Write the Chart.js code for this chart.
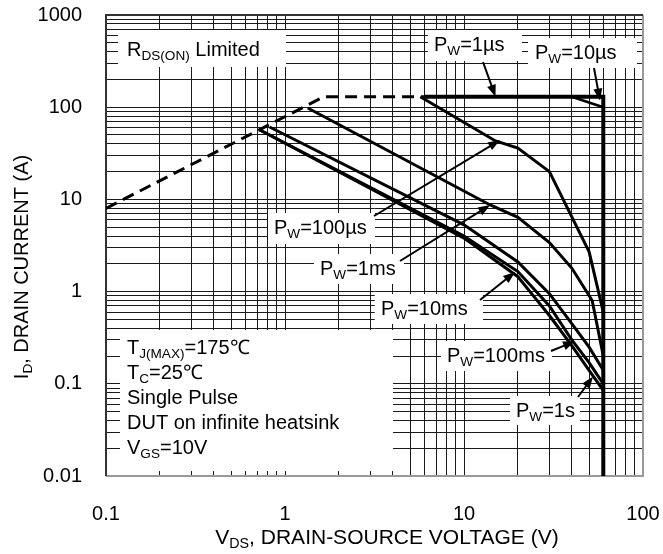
<!DOCTYPE html>
<html>
<head>
<meta charset="utf-8">
<script src="https://cdn.jsdelivr.net/npm/chart.js@4.4.1/dist/chart.umd.min.js"></script>
<style>
  html, body { margin: 0; padding: 0; background: #fff; }
  #wrap { width: 663px; height: 554px; }
</style>
</head>
<body>
<div id="wrap"><canvas id="soa"></canvas></div>
<script>
// tick labels
const xTickLabels = ['0.1', '1', '10', '100'];
const yTickLabels = ['0.01', '0.1', '1', '10', '100', '1000'];

// curves: V_DS (V) and I_D (A)
const rdsV = [0.1, 1.65, 6];
const rdsI = [8, 130, 130];
const pw1usV = [6, 60, 60];
const pw1usI = [130, 130, 0.01];
const pw10usV = [40, 60];
const pw10usI = [130, 100];
const pw100usV = [5.7, 15, 20, 30, 50, 60];
const pw100usI = [130, 43, 36, 20, 2.7, 0.6];
const pw1msV = [1.34, 14, 20, 30, 40, 52, 60];
const pw1msI = [98, 8.7, 6.4, 3.4, 1.8, 0.8, 0.2];
const pw10msV = [0.82, 10, 20, 30, 40, 50, 60];
const pw10msI = [61, 5.3, 2.1, 0.95, 0.45, 0.25, 0.14];
const pw100msV = [0.72, 10, 20, 30, 40, 50, 60];
const pw100msI = [57, 4.0, 1.65, 0.7, 0.3, 0.17, 0.1];
const pw1sV = [0.72, 10, 20, 25, 30, 40, 50, 60];
const pw1sI = [57, 3.8, 1.45, 0.85, 0.55, 0.26, 0.14, 0.085];

const FONT = '"Liberation Sans", Arial, sans-serif';

function pts(xs, ys) { return xs.map((x, i) => ({ x: x, y: ys[i] })); }

function line(xs, ys, w, dash) {
  return {
    data: pts(xs, ys), borderColor: '#000', borderWidth: w,
    borderDash: dash || [], pointRadius: 0, tension: 0, fill: false
  };
}

function logTicks(min, max) {
  const out = [];
  for (let e = Math.round(Math.log10(min)); e < Math.round(Math.log10(max)); e++) {
    for (let m = 1; m < 10; m++) out.push({ value: m * Math.pow(10, e) });
  }
  out.push({ value: max });
  return out;
}

function labelFor(list, v) {
  const hit = list.find(l => Math.abs(parseFloat(l) - v) / v < 1e-6);
  return hit || '';
}

// text with subscripts: parts = [[text, isSub], ...]
function richWidth(ctx, parts, size) {
  let w = 0;
  parts.forEach(p => {
    ctx.font = (p[1] ? size * 0.68 : size) + 'px ' + FONT;
    w += ctx.measureText(p[0]).width;
  });
  return w;
}
function drawRich(ctx, parts, x, y, size) {
  ctx.textBaseline = 'middle';
  ctx.textAlign = 'left';
  let cx = x;
  parts.forEach(p => {
    ctx.font = (p[1] ? size * 0.68 : size) + 'px ' + FONT;
    ctx.fillText(p[0], cx, y + (p[1] ? size * 0.3 : 0));
    cx += ctx.measureText(p[0]).width;
  });
}

// label boxes (pixel layout) and arrows (tip on a curve, in data units)
const boxes = [
  { r: [118, 30, 168, 37], t: [['R', 0], ['DS(ON)', 1], [' Limited', 0]], tx: 127, ty: 50 },
  { r: [428, 30, 94, 31], t: [['P', 0], ['W', 1], ['=1µs', 0]], tx: 434, ty: 45 },
  { r: [528, 38, 109, 30], t: [['P', 0], ['W', 1], ['=10µs', 0]], tx: 535, ty: 53 },
  { r: [268, 213, 107, 31], t: [['P', 0], ['W', 1], ['=100µs', 0]], tx: 274, ty: 228 },
  { r: [314, 254, 90, 30], t: [['P', 0], ['W', 1], ['=1ms', 0]], tx: 320, ty: 269 },
  { r: [375, 294, 108, 30], t: [['P', 0], ['W', 1], ['=10ms', 0]], tx: 381, ty: 309 },
  { r: [441, 341, 111, 30], t: [['P', 0], ['W', 1], ['=100ms', 0]], tx: 447, ty: 356 },
  { r: [510, 396, 70, 29], t: [['P', 0], ['W', 1], ['=1s', 0]], tx: 516, ty: 411 }
];
const condBox = [120, 330, 273, 141];
const condLines = [
  [['T', 0], ['J(MAX)', 1], ['=175℃', 0]],
  [['T', 0], ['C', 1], ['=25℃', 0]],
  [['Single Pulse', 0]],
  [['DUT on infinite heatsink', 0]],
  [['V', 0], ['GS', 1], ['=10V', 0]]
];
// arrows: tail [px, py], tip [V, I]
const arrows = [
  { from: [483, 62], to: [15, 130] },
  { from: [594, 68], to: [57.5, 118] },
  { from: [374, 216], to: [15.9, 44] },
  { from: [400, 261], to: [14, 8.7] },
  { from: [480, 300], to: [19.3, 1.63] },
  { from: [551, 351], to: [41.7, 0.29] },
  { from: [578, 397], to: [52.6, 0.12] }
];

function drawArrow(ctx, x0, y0, x1, y1) {
  const a = Math.atan2(y1 - y0, x1 - x0), L = 12, H = 4.5;
  ctx.strokeStyle = '#000'; ctx.fillStyle = '#000'; ctx.lineWidth = 2;
  ctx.beginPath(); ctx.moveTo(x0, y0);
  ctx.lineTo(x1 - L * 0.8 * Math.cos(a), y1 - L * 0.8 * Math.sin(a)); ctx.stroke();
  ctx.beginPath(); ctx.moveTo(x1, y1);
  ctx.lineTo(x1 - L * Math.cos(a) + H * Math.sin(a), y1 - L * Math.sin(a) - H * Math.cos(a));
  ctx.lineTo(x1 - L * Math.cos(a) - H * Math.sin(a), y1 - L * Math.sin(a) + H * Math.cos(a));
  ctx.closePath(); ctx.fill();
}

const soaDecor = {
  id: 'soaDecor',
  beforeDatasetsDraw(chart) {
    const ctx = chart.ctx, a = chart.chartArea;
    ctx.save();
    ctx.fillStyle = '#fff';
    boxes.forEach(b => ctx.fillRect(b.r[0], b.r[1], b.r[2], b.r[3]));
    ctx.fillRect(condBox[0], condBox[1], condBox[2], condBox[3]);
    // frame
    ctx.lineWidth = 2;
    ctx.strokeStyle = '#999';
    ctx.beginPath(); ctx.moveTo(a.left, a.bottom); ctx.lineTo(a.right, a.bottom); ctx.lineTo(a.right, a.top); ctx.stroke();
    ctx.strokeStyle = '#333';
    ctx.beginPath(); ctx.moveTo(a.left, a.bottom); ctx.lineTo(a.left, a.top); ctx.lineTo(a.right, a.top); ctx.stroke();
    ctx.restore();
  },
  afterDatasetsDraw(chart) {
    const ctx = chart.ctx, xs = chart.scales.x, ys = chart.scales.y;
    ctx.save();
    ctx.fillStyle = '#000';
    boxes.forEach(b => drawRich(ctx, b.t, b.tx, b.ty, 20));
    condLines.forEach((l, i) => { ctx.fillStyle = '#000'; drawRich(ctx, l, 127, 348 + i * 25, 20); });
    arrows.forEach(r => drawArrow(ctx, r.from[0], r.from[1], xs.getPixelForValue(r.to[0]), ys.getPixelForValue(r.to[1])));
    // axis titles
    ctx.fillStyle = '#000';
    const xt = [['V', 0], ['DS', 1], [', DRAIN-SOURCE VOLTAGE (V)', 0]];
    drawRich(ctx, xt, 387 - richWidth(ctx, xt, 21) / 2, 538, 21);
    const yt = [['I', 0], ['D', 1], [', DRAIN CURRENT (A)', 0]];
    ctx.translate(22, 267);
    ctx.rotate(-Math.PI / 2);
    drawRich(ctx, yt, -richWidth(ctx, yt, 20) / 2, 0, 20);
    ctx.restore();
  }
};

// tick marks are invisible; their length just spaces the labels from the frame
function gridOpts(len) {
  return { color: '#1a1a1a', lineWidth: 1, drawTicks: true, tickLength: len, tickColor: 'rgba(0,0,0,0)' };
}

new Chart(document.getElementById('soa'), {
  type: 'line',
  data: {
    datasets: [
      line(rdsV, rdsI, 3, [12, 7]),
      line(pw1usV, pw1usI, 4),
      line(pw10usV, pw10usI, 2.5),
      line(pw100usV, pw100usI, 3),
      line(pw1msV, pw1msI, 3),
      line(pw10msV, pw10msI, 3),
      line(pw100msV, pw100msI, 3),
      line(pw1sV, pw1sI, 3)
    ]
  },
  options: {
    responsive: true,
    maintainAspectRatio: false,
    animation: false,
    layout: { padding: { left: 0, right: 20, top: 15, bottom: 0 } },
    plugins: { legend: { display: false }, tooltip: { enabled: false } },
    scales: {
      x: {
        type: 'logarithmic', min: 0.1, max: 100,
        afterBuildTicks: s => { s.ticks = logTicks(0.1, 100); },
        afterFit: s => { s.height = 78; },
        grid: gridOpts(26), border: { display: false },
        ticks: {
          autoSkip: false, maxRotation: 0, padding: 0, color: '#000',
          font: { family: FONT, size: 20 },
          callback: v => labelFor(xTickLabels, v)
        }
      },
      y: {
        type: 'logarithmic', min: 0.01, max: 1000,
        afterBuildTicks: s => { s.ticks = logTicks(0.01, 1000); },
        afterFit: s => { s.width = 106; },
        grid: gridOpts(24), border: { display: false },
        ticks: {
          autoSkip: false, padding: 0, color: '#000',
          font: { family: FONT, size: 20 },
          callback: v => labelFor(yTickLabels, v)
        }
      }
    }
  },
  plugins: [soaDecor]
});
</script>
</body>
</html>
